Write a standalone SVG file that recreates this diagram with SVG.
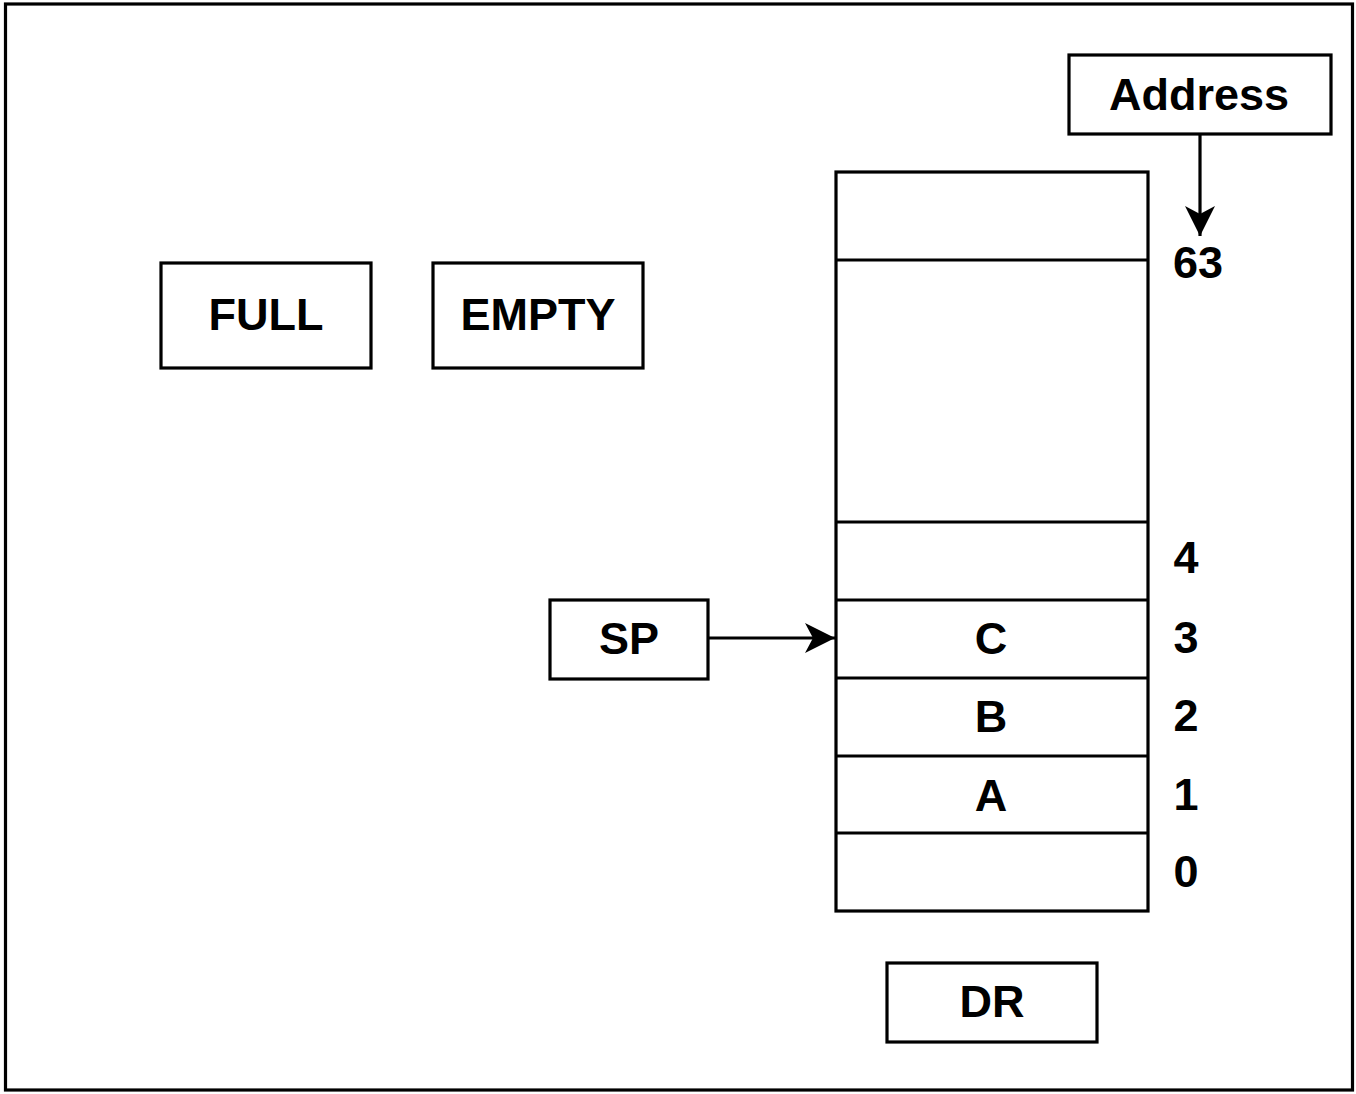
<svg xmlns="http://www.w3.org/2000/svg" width="1356" height="1094" viewBox="0 0 1356 1094">
<defs>
<style>
.box{fill:#fff;stroke:#000;stroke-width:3.2}
.ln{fill:none;stroke:#000;stroke-width:3.2}
.t{font-family:"Liberation Sans",Arial,sans-serif;font-weight:bold;font-size:45px;fill:#000;text-anchor:middle;dominant-baseline:central}
</style>
<marker id="arr" markerUnits="userSpaceOnUse" markerWidth="34" markerHeight="34" viewBox="0 0 34 34" refX="32" refY="17" orient="auto">
<path d="M2,2 L32,17 L2,32 L10,17 Z" fill="#000"/>
</marker>
</defs>
<rect x="0" y="0" width="1356" height="1094" fill="#fff"/>
<rect id="frame" x="5.5" y="4" width="1347" height="1086" class="box"/>
<g id="stack">
<rect x="836" y="172" width="312" height="739" class="box"/>
<line x1="836" y1="260" x2="1148" y2="260" class="ln"/>
<line x1="836" y1="522" x2="1148" y2="522" class="ln"/>
<line x1="836" y1="600" x2="1148" y2="600" class="ln"/>
<line x1="836" y1="678" x2="1148" y2="678" class="ln"/>
<line x1="836" y1="756" x2="1148" y2="756" class="ln"/>
<line x1="836" y1="833" x2="1148" y2="833" class="ln"/>
<text x="991" y="638" class="t">C</text>
<text x="991" y="716" class="t">B</text>
<text x="991" y="795" class="t">A</text>
</g>
<g id="labels">
<text x="1198" y="262" class="t">63</text>
<text x="1186" y="557" class="t">4</text>
<text x="1186" y="637" class="t">3</text>
<text x="1186" y="715" class="t">2</text>
<text x="1186" y="794" class="t">1</text>
<text x="1186" y="871" class="t">0</text>
</g>
<g id="address"><rect x="1069" y="55" width="262" height="79" class="box"/><text x="1199" y="94" class="t">Address</text></g>
<g id="full"><rect x="161" y="263" width="210" height="105" class="box"/><text x="266" y="314" class="t">FULL</text></g>
<g id="empty"><rect x="433" y="263" width="210" height="105" class="box"/><text x="538" y="314" class="t">EMPTY</text></g>
<g id="sp"><rect x="550" y="600" width="158" height="79" class="box"/><text x="629" y="638" class="t">SP</text></g>
<g id="dr"><rect x="887" y="963" width="210" height="79" class="box"/><text x="992" y="1001" class="t">DR</text></g>
<g id="connectors">
<line x1="1200" y1="134" x2="1200" y2="236" class="ln" marker-end="url(#arr)"/>
<line x1="708" y1="638" x2="835" y2="638" class="ln" marker-end="url(#arr)"/>
</g>
</svg>
